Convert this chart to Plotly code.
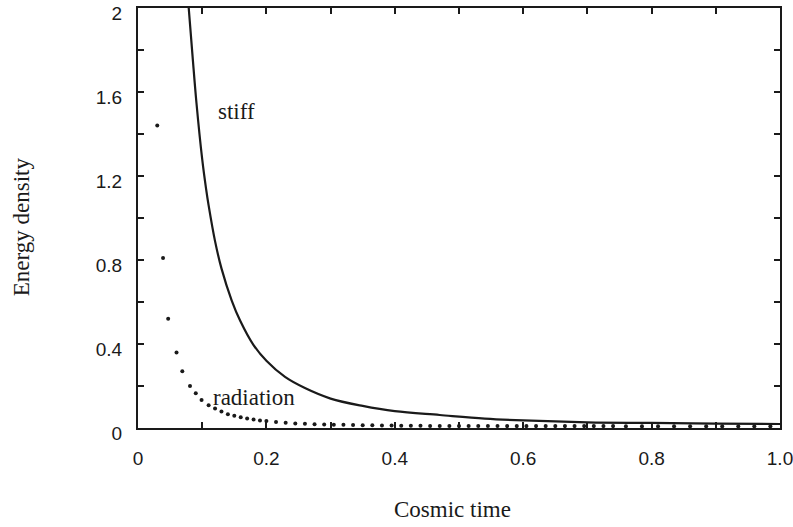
import plotly.graph_objects as go

# Stiff fluid curve
stiff_t = [0.079, 0.085, 0.091, 0.100, 0.106, 0.110, 0.120, 0.130, 0.146, 0.159,
           0.180, 0.200, 0.229, 0.260, 0.300, 0.350, 0.400, 0.470, 0.540, 0.600,
           0.700, 0.800, 0.900, 1.000]
stiff_rho = [2.00, 1.77, 1.55, 1.28, 1.14, 1.06, 0.89, 0.76, 0.607, 0.512,
             0.395, 0.32, 0.243, 0.19, 0.14, 0.105, 0.08, 0.062, 0.045, 0.036,
             0.027, 0.024, 0.021, 0.019]

# Radiation points
rad_t = [0.030, 0.039, 0.047, 0.060, 0.069, 0.081, 0.090, 0.099, 0.110, 0.120,
         0.130, 0.140, 0.150, 0.160, 0.170, 0.180, 0.190, 0.200, 0.215, 0.230,
         0.245, 0.260, 0.275, 0.290, 0.305, 0.320, 0.335, 0.350, 0.365, 0.380,
         0.395, 0.410, 0.425, 0.440, 0.455, 0.470, 0.485, 0.500, 0.515, 0.530,
         0.545, 0.560, 0.575, 0.590, 0.605, 0.620, 0.635, 0.650, 0.665, 0.680,
         0.695, 0.710, 0.725, 0.740, 0.760, 0.785, 0.810, 0.835, 0.860, 0.885,
         0.910, 0.935, 0.960, 0.985]
rad_rho = [1.44, 0.81, 0.52, 0.36, 0.27, 0.20, 0.165, 0.133, 0.108, 0.093,
           0.078, 0.066, 0.058, 0.051, 0.045, 0.040, 0.036, 0.033, 0.028, 0.025,
           0.022, 0.020, 0.018, 0.017, 0.016, 0.015, 0.014, 0.013, 0.013, 0.012,
           0.012, 0.011, 0.011, 0.011, 0.010, 0.010, 0.010, 0.010, 0.010, 0.010,
           0.010, 0.010, 0.009, 0.009, 0.009, 0.009, 0.009, 0.009, 0.009, 0.009,
           0.009, 0.009, 0.009, 0.009, 0.008, 0.008, 0.008, 0.008, 0.008, 0.008,
           0.008, 0.008, 0.008, 0.008]

x_tickvals = [0, 0.2, 0.4, 0.6, 0.8, 1.0]
x_ticktext = ["0", "0.2", "0.4", "0.6", "0.8", "1.0"]
y_tickvals = [0, 0.4, 0.8, 1.2, 1.6, 2.0]
y_ticktext = ["0", "0.4", "0.8", "1.2", "1.6", "2"]

INK = "#1a1a1a"
SERIF = "Liberation Serif, Times New Roman, serif"
SANS = "Liberation Sans, Arial, sans-serif"

fig = go.Figure()
fig.add_trace(go.Scatter(x=rad_t, y=rad_rho, mode="markers",
                         marker=dict(color=INK, size=4), showlegend=False))
fig.add_trace(go.Scatter(x=stiff_t, y=stiff_rho, mode="lines",
                         line=dict(color=INK, width=2.2, shape="spline"),
                         showlegend=False))

axis_common = dict(showline=True, linecolor=INK, linewidth=2, mirror="ticks",
                   ticks="inside", ticklen=6, tickwidth=1.5, tickcolor=INK,
                   showgrid=False, zeroline=False, automargin=False,
                   ticklabeloverflow="allow",
                   tickfont=dict(family=SANS, size=19, color=INK))

fig.update_xaxes(range=[0, 1.0], tickvals=x_tickvals, ticktext=x_ticktext,
                 minor=dict(dtick=0.1, tick0=0, ticks="inside", ticklen=6,
                            tickwidth=1.5, tickcolor=INK),
                 ticklabelstandoff=12, **axis_common)
fig.update_yaxes(range=[0, 2.0], tickvals=y_tickvals, ticktext=y_ticktext,
                 minor=dict(dtick=0.2, tick0=0, ticks="inside", ticklen=6,
                            tickwidth=1.5, tickcolor=INK),
                 ticklabelstandoff=10, ticklabelshift=5, **axis_common)

fig.add_annotation(x=0.153, y=1.507, text="stiff", showarrow=False,
                   font=dict(family=SERIF, size=23, color=INK))
fig.add_annotation(x=0.181, y=0.147, text="radiation", showarrow=False,
                   font=dict(family=SERIF, size=23, color=INK))
fig.add_annotation(xref="paper", yref="paper", x=0.49, y=-0.195,
                   text="Cosmic time", showarrow=False,
                   xanchor="center", yanchor="middle",
                   font=dict(family=SERIF, size=23, color=INK))
fig.add_annotation(xref="paper", yref="paper", x=-0.181, y=0.48,
                   text="Energy density", showarrow=False, textangle=-90,
                   xanchor="center", yanchor="middle",
                   font=dict(family=SERIF, size=23, color=INK))

fig.update_layout(width=793, height=527,
                  margin=dict(l=138, r=13, t=8, b=99, autoexpand=False),
                  plot_bgcolor="white", paper_bgcolor="white")

fig.write_html("out.html", config={"displayModeBar": False},
               post_script="document.body.style.margin='0';document.body.style.overflow='hidden';")
